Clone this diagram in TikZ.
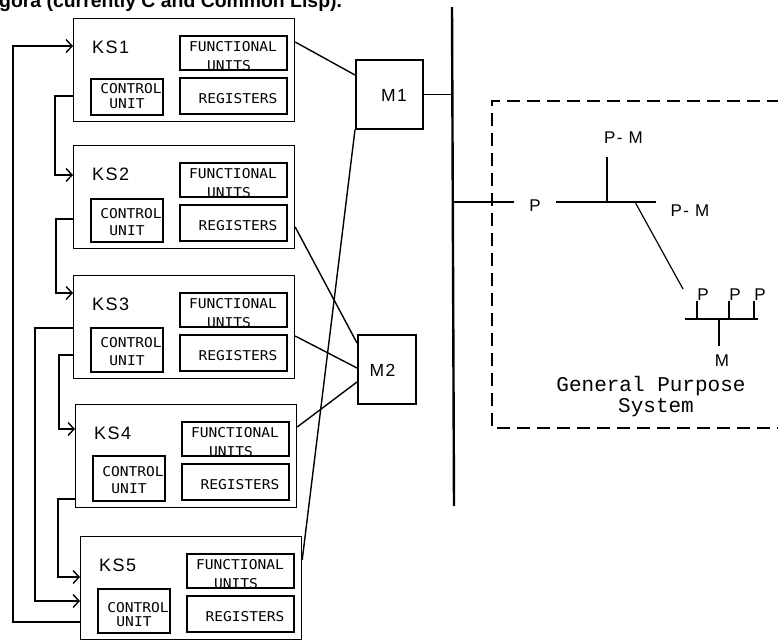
\documentclass[tikz,border=0pt]{standalone}
\usepackage{fontspec}
\usetikzlibrary{arrows.meta}
\newfontfamily\ksfont[LetterSpace=8]{Liberation Sans}
\newfontfamily\boxfont[FakeStretch=1.08]{DejaVu Sans Mono}
\newfontfamily\gpfont{Liberation Mono}
\newfontfamily\hdrfont{Liberation Sans}

\tikzset{
  ksbox/.style={draw, line width=1.2pt, minimum width=221pt, minimum height=103pt, inner sep=0pt, anchor=north west},
  ibox/.style={draw, line width=1.9pt, inner sep=0pt, anchor=north west},
  kslab/.style={font=\ksfont\fontsize{18}{20}\selectfont, inner sep=0pt, anchor=base west},
  btxt/.style={font=\boxfont\fontsize{13.5}{15}\selectfont, inner sep=0pt, anchor=base},
  mbox/.style={draw, line width=1.6pt, inner sep=0pt, anchor=north west},
  mlab/.style={font=\ksfont\fontsize{17.5}{19}\selectfont, inner sep=0pt},
  conn/.style={line width=1.4pt},
  arr/.style={conn, -{Straight Barb[length=6pt, width=13pt]}},
  bus/.style={line width=2.4pt},
  gline/.style={line width=1.2pt},
  glab/.style={font=\ksfont\fontsize{17}{19}\selectfont, inner sep=0pt},
  gptxt/.style={font=\gpfont\fontsize{21}{22}\selectfont, inner sep=0pt},
  dbox/.style={line width=2pt, dash pattern=on 13pt off 7pt},
  hdr/.style={font=\hdrfont\bfseries\fontsize{19.4}{22}\selectfont, inner sep=0pt, anchor=base west},
}

% #1 name, #2 X, #3 Y, #4 label, #5 control top, #6 CONTROL base, #7 UNIT base
\newcommand\KSunit[7]{%
  \node[ksbox] (ks#1) at (#2,#3) {};
  \node[kslab] (ks#1l) at ({#2+19},{#3+35}) {#4};
  \node[ibox, minimum width=107pt, minimum height=34pt] (fu#1) at ({#2+106},{#3+17}) {};
  \node[btxt] (fu#1a) at ({#2+160},{#3+33}) {FUNCTIONAL};
  \node[btxt] (fu#1b) at ({#2+156},{#3+52}) {UNITS};
  \node[ibox, minimum width=107pt, minimum height=36pt] (rg#1) at ({#2+106},{#3+59}) {};
  \node[btxt] (rg#1t) at ({#2+165},{#3+85}) {REGISTERS};
  \node[ibox, minimum width=72pt, minimum height={(96-#5)*1pt}] (cu#1) at ({#2+17},{#3+#5}) {};
  \node[btxt] (cu#1a) at ({#2+58},{#3+#6}) {CONTROL};
  \node[btxt] (cu#1b) at ({#2+54},{#3+#7}) {UNIT};
}

\begin{document}
\begin{tikzpicture}[x=1pt,y=-1pt]
\useasboundingbox (0,0) rectangle (778,641);
\fill[white] (0,0) rectangle (778,641);

\node[hdr] (header) at (-1,7) {gora (currently C and Common Lisp).};

\KSunit{1}{73}{18}{KS1}{60}{75}{90}
\KSunit{2}{73}{145}{KS2}{53}{73}{90}
\KSunit{3}{73}{275}{KS3}{52}{72}{90}
\KSunit{4}{75}{404}{KS4}{51}{72}{89}
\KSunit{5}{80}{536}{KS5}{52}{76}{90}

% memories
\node[mbox, minimum width=67pt, minimum height=69pt] (m1) at (355,59) {};
\node[mlab] (m1t) at (394,95.5) {M1};
\node[mbox, minimum width=58pt, minimum height=69pt] (m2) at (357,334) {};
\node[mlab] (m2t) at (382.5,370) {M2};

% left control connectors
\draw[arr] ([yshift=-86pt]ks5.north west) -- ++(-67,0) |- ([yshift=-28pt]ks1.north west);
\draw[arr] ([yshift=-78pt]ks1.north west) -- ++(-18,0) |- ([yshift=-30pt]ks2.north west);
\draw[arr] ([yshift=-74pt]ks2.north west) -- ++(-17,0) |- ([yshift=-18pt]ks3.north west);
\draw[arr] ([yshift=-53pt]ks3.north west) -- ++(-38,0) |- ([yshift=-65pt]ks5.north west);
\draw[arr] ([yshift=-80pt]ks3.north west) -- ++(-14,0) |- ([yshift=-25pt]ks4.north west);
\draw[arr] ([yshift=-95pt]ks4.north west) -- ++(-17,0) |- ([yshift=-41pt]ks5.north west);

% memory connectors
\draw[conn] ([yshift=-24pt]ks1.north east) -- ([yshift=-16pt]m1.north west);
\draw[conn] (m1.south west) -- ([yshift=-24pt]ks5.north east);
\draw[conn] ([yshift=-82pt]ks2.north east) -- ([yshift=-9pt]m2.north west);
\draw[conn] ([yshift=-61pt]ks3.north east) -- ([yshift=-34pt]m2.north west);
\draw[conn] ([yshift=-48pt]m2.north west) -- ([yshift=-23pt]ks4.north east);

% bus
\coordinate (bt) at (452,7);
\coordinate (bb) at (454,506);
\draw[bus] (bt) -- (bb);
\draw[conn] (m1.east) -- (m1.east -| bt);

% general purpose system
\node[glab] (gP) at (535,206) {P};
\node[glab] (pmt) at (623.5,137.5) {P- M};
\node[glab] (pmr) at (690,211) {P- M};
\coordinate (j1) at (607,202);
\coordinate (j2) at (635,202);
\coordinate (d2) at (683,289);
\draw[conn, shorten >=15pt] (bt |- j1) -- (gP.west |- j1);
\draw[gline, shorten <=15pt, shorten >=15pt] (gP.east |- j1) -- (pmr.west |- j1);
\draw[gline, shorten >=13pt] (j1) -- (j1 |- pmt.south);
\draw[gline] (j2) -- (d2);

\node[glab] (pa) at (703,295) {P};
\node[glab] (pb) at (735,295) {P};
\node[glab] (pc) at (760,295) {P};
\coordinate (pbl) at (685,319);
\coordinate (pbr) at (758,319);
\coordinate (mst) at (719,319);
\draw[gline, line width=1.5pt] (pbl) -- (pbr);
\draw[gline, line width=1.5pt] (pa.south west) -- (pa.south west |- pbl);
\draw[gline, line width=1.5pt] (pb.south west) -- (pb.south west |- pbl);
\draw[gline, line width=1.5pt] (pc.south west) -- (pc.south west |- pbl);
\node[glab] (gm) at (722,361) {M};
\draw[gline, line width=1.5pt, shorten >=9pt] (mst) -- (mst |- gm.north);
\node[gptxt] (gp1) at (651,386.5) {General Purpose};
\node[gptxt] (gp2) at (656,408) {System};

\draw[dbox] (800,101) -- (492,101) -- (492,428) -- (800,428);
\end{tikzpicture}
\end{document}
